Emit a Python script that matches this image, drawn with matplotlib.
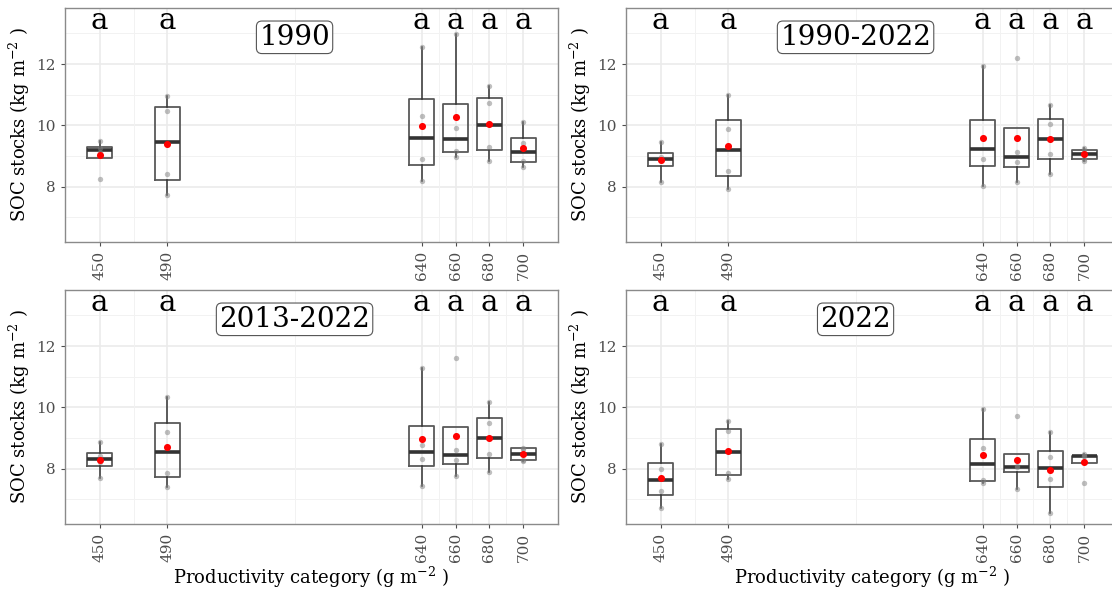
import numpy as np
import matplotlib
matplotlib.use('Agg')
import matplotlib.pyplot as plt

plt.rcParams['font.family'] = 'DejaVu Serif'
plt.rcParams['mathtext.fontset'] = 'dejavuserif'

# productivity categories (g m-2) and group letters
categories = [450, 490, 640, 660, 680, 700]
letters = ['a', 'a', 'a', 'a', 'a', 'a']
periods = ['1990', '1990-2022', '2013-2022', '2022']

# SOC stocks (kg m-2) per plot, one list per category
soc_1990 = [
    [8.26, 9.15, 9.25, 9.49],
    [7.72, 8.41, 10.48, 10.97],
    [8.19, 8.90, 10.30, 12.56],
    [8.97, 9.18, 9.93, 12.99],
    [8.84, 9.31, 10.74, 11.30],
    [8.64, 8.85, 9.43, 10.11],
]
soc_1990_2022 = [
    [8.15, 8.87, 8.97, 9.47],
    [7.93, 8.50, 9.90, 11.00],
    [8.01, 8.90, 9.58, 11.93],
    [8.17, 8.82, 9.14, 12.19],
    [8.42, 9.06, 10.04, 10.66],
    [8.85, 8.92, 9.20, 9.25],
]
soc_2013_2022 = [
    [7.70, 8.22, 8.42, 8.86],
    [7.40, 7.86, 9.21, 10.34],
    [7.45, 8.32, 8.78, 11.28],
    [7.75, 8.30, 8.60, 11.60],
    [7.88, 8.49, 9.49, 10.19],
    [8.27, 8.30, 8.66, 8.69],
]
soc_2022 = [
    [6.73, 7.29, 7.99, 8.80],
    [7.68, 7.85, 9.22, 9.57],
    [7.53, 7.64, 8.67, 9.94],
    [7.35, 8.06, 8.08, 9.71],
    [6.56, 7.68, 8.37, 9.19],
    [7.54, 8.41, 8.41, 8.48],
]
datasets = [soc_1990, soc_1990_2022, soc_2013_2022, soc_2022]

W, H = 1112, 590
fig = plt.figure(figsize=(W / 100, H / 100), dpi=100)

# panel boxes in pixels: left, top, width, height
boxes = [(65, 8), (626, 8), (65, 290), (626, 290)]
pw, ph = 493, 234

minor_x = [470, 565, 650, 670, 690]

for i, (data, period) in enumerate(zip(datasets, periods)):
    left, top = boxes[i]
    ax = fig.add_axes([left / W, 1 - (top + ph) / H, pw / W, ph / H])

    ax.set_xlim(429.5, 720.5)
    ax.set_ylim(6.2, 13.83)

    # grid
    for y in [7, 9, 11, 13]:
        ax.axhline(y, color='#F2F2F2', lw=0.7, zorder=0)
    for y in [8, 10, 12]:
        ax.axhline(y, color='#EBEBEB', lw=1.2, zorder=0)
    for x in minor_x:
        ax.axvline(x, color='#F2F2F2', lw=0.7, zorder=0)
    for x in categories:
        ax.axvline(x, color='#EBEBEB', lw=1.2, zorder=0)

    ax.boxplot(data, positions=categories, widths=15, showfliers=False,
               showcaps=False, manage_ticks=False,
               boxprops=dict(color='#595959', lw=1.3),
               whiskerprops=dict(color='#333333', lw=1.1),
               medianprops=dict(color='#333333', lw=2.6))

    for x, vals in zip(categories, data):
        ax.scatter([x] * len(vals), vals, s=15, color='grey', alpha=0.5,
                   lw=0, zorder=3)
        ax.scatter([x], [np.mean(vals)], s=26, color='red', lw=0, zorder=4)

    for x, lab in zip(categories, letters):
        ax.text(x, 13.13, lab, ha='center', va='baseline', fontsize=21)

    ax.text(565, 12.63, period, ha='center', va='baseline', fontsize=20,
            bbox=dict(boxstyle='round,pad=0.1,rounding_size=0.2',
                      fc='white', ec='#555555', lw=0.8))

    ax.set_xticks(categories)
    ax.set_xticklabels([str(c) for c in categories], rotation=90)
    ax.set_yticks([8, 10, 12])
    ax.tick_params(colors='#4D4D4D', labelsize=11, length=3, width=0.8)
    for s in ax.spines.values():
        s.set_color('#8A8A8A')
        s.set_linewidth(1.0)

    ax.set_ylabel('SOC stocks (kg m$^{-2}$ )', fontsize=13)
    ax.yaxis.set_label_coords(-0.066, 0.5)
    if i >= 2:
        ax.set_xlabel('Productivity category (g m$^{-2}$ )', fontsize=13)
        ax.xaxis.set_label_coords(0.5, -0.175)

fig.savefig('out.png', dpi=100)
